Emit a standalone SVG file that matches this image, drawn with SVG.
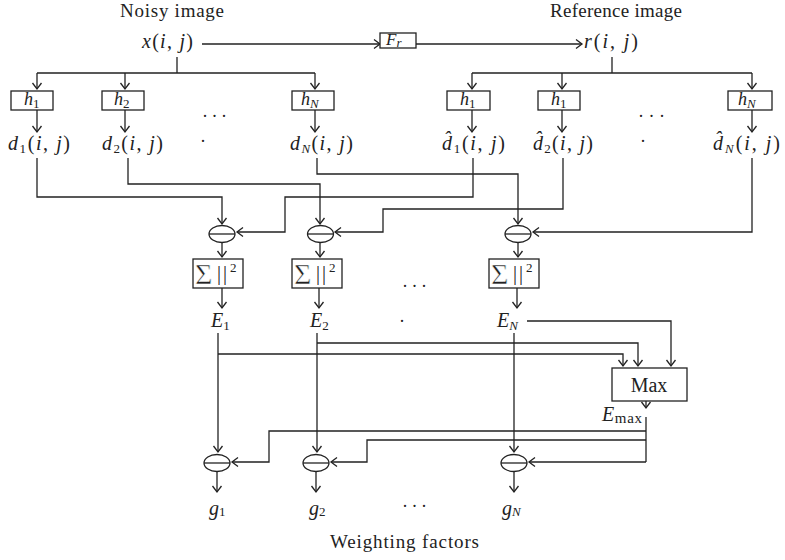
<svg xmlns="http://www.w3.org/2000/svg" width="785" height="560" viewBox="0 0 785 560" font-size="19">
<style>
.t{font-family:"Liberation Serif","Times New Roman",serif;fill:#222}
.i{font-style:italic}
.s{font-size:13px}
.sg{stroke:#fff;stroke-width:0.6}
.b{fill:#fff;stroke:#222;stroke-width:1.3}
.l{fill:none;stroke:#222;stroke-width:1.3}
.a{fill:none;stroke:#222;stroke-width:1.3;marker-end:url(#ar)}
</style>
<defs>
<marker id="ar" markerUnits="userSpaceOnUse" markerWidth="10" markerHeight="10" viewBox="-8 -5 10 10" refX="0" refY="0" orient="auto" overflow="visible">
<path d="M-6,-4.5 L0,0 L-6,4.5" fill="none" stroke="#222" stroke-width="1.3"/>
</marker>
</defs>
<rect width="785" height="560" fill="#fff"/>

<g id="connectors">
<path class="a" d="M202,44 H380"/>
<path class="a" d="M416,44 H582"/>
<path class="l" d="M177,57 V73 M37,73 H315"/>
<path class="a" d="M37,73 V89"/>
<path class="a" d="M125,73 V89"/>
<path class="a" d="M315,73 V89"/>
<path class="l" d="M612,57 V73 M472,73 H752"/>
<path class="a" d="M472,73 V89"/>
<path class="a" d="M562,73 V89"/>
<path class="a" d="M752,73 V89"/>
<path class="a" d="M37,110 V132"/>
<path class="a" d="M125,110 V132"/>
<path class="a" d="M315,110 V132"/>
<path class="a" d="M472,110 V132"/>
<path class="a" d="M562,110 V132"/>
<path class="a" d="M752,110 V132"/>
<path class="a" d="M37,158 V197 H222 V224"/>
<path class="a" d="M128,158 V184 H320 V224"/>
<path class="a" d="M317,158 V174 H518 V224"/>
<path class="a" d="M473,158 V197 H285 V232 H237"/>
<path class="a" d="M563,158 V209 H383 V232 H335"/>
<path class="a" d="M752,158 V232 H533"/>
<path class="a" d="M222,243 V257"/>
<path class="a" d="M320,243 V257"/>
<path class="a" d="M518,243 V257"/>
<path class="a" d="M222,288 V308"/>
<path class="a" d="M319,288 V308"/>
<path class="a" d="M517,288 V308"/>
<path class="a" d="M218,333 V452"/>
<path class="a" d="M218,354 H623 V366"/>
<path class="a" d="M317,333 V452"/>
<path class="a" d="M317,343 H638 V366"/>
<path class="a" d="M514,333 V452"/>
<path class="a" d="M527,321 H671 V366"/>
<path class="a" d="M646,394 V408"/>
<path class="l" d="M646,417 V462"/>
<path class="a" d="M646,431 H269 V462 H232"/>
<path class="a" d="M646,440 H367 V462 H331"/>
<path class="a" d="M646,462 H529"/>
<path class="a" d="M217,472 V492"/>
<path class="a" d="M316,472 V492"/>
<path class="a" d="M514,472 V492"/>
</g>

<g id="noisy-image">
<text class="t" x="120" y="17" font-size="19" textLength="104">Noisy image</text>
<text class="t" x="142" y="48" font-size="20" textLength="51"><tspan class="i">x</tspan>(<tspan class="i">i</tspan>, <tspan class="i">j</tspan>)</text>
</g>
<g id="reference-image">
<text class="t" x="550" y="17" font-size="19" textLength="132">Reference image</text>
<text class="t" x="584" y="48" font-size="20" textLength="54"><tspan class="i">r</tspan>(<tspan class="i">i</tspan>, <tspan class="i">j</tspan>)</text>
</g>
<g id="fr">
<rect class="b" x="380" y="33" width="36" height="15"/>
<text class="t i" x="386" y="45" font-size="17">F<tspan font-size="13" dy="2">r</tspan></text>
</g>

<g id="h1">
<rect class="b" x="11" y="91" width="42" height="19"/>
<text class="t" x="24" y="105" font-size="18"><tspan class="i">h</tspan><tspan class="s" dy="3">1</tspan></text>
</g>
<g id="h2">
<rect class="b" x="102" y="91" width="42" height="19"/>
<text class="t" x="114" y="105" font-size="18"><tspan class="i">h</tspan><tspan class="s" dy="3">2</tspan></text>
</g>
<g id="hN">
<rect class="b" x="292" y="91" width="42" height="19"/>
<text class="t" x="301" y="105" font-size="18"><tspan class="i">h</tspan><tspan class="s i" dy="3">N</tspan></text>
</g>
<g id="hr1">
<rect class="b" x="447" y="91" width="43" height="19"/>
<text class="t" x="460" y="105" font-size="18"><tspan class="i">h</tspan><tspan class="s" dy="3">1</tspan></text>
</g>
<g id="hr2">
<rect class="b" x="538" y="91" width="42" height="19"/>
<text class="t" x="551" y="105" font-size="18"><tspan class="i">h</tspan><tspan class="s" dy="3">1</tspan></text>
</g>
<g id="hrN">
<rect class="b" x="728" y="91" width="44" height="19"/>
<text class="t" x="738" y="105" font-size="18"><tspan class="i">h</tspan><tspan class="s i" dy="3">N</tspan></text>
</g>

<g id="d-labels">
<text class="t" x="8" y="150" font-size="20" textLength="62"><tspan class="i">d</tspan><tspan class="s" dy="3">1</tspan><tspan dy="-3">(</tspan><tspan class="i">i</tspan>, <tspan class="i">j</tspan>)</text>
<text class="t" x="102" y="150" font-size="20" textLength="61"><tspan class="i">d</tspan><tspan class="s" dy="3">2</tspan><tspan dy="-3">(</tspan><tspan class="i">i</tspan>, <tspan class="i">j</tspan>)</text>
<text class="t" x="290" y="150" font-size="20" textLength="63"><tspan class="i">d</tspan><tspan class="s i" dy="3">N</tspan><tspan dy="-3">(</tspan><tspan class="i">i</tspan>, <tspan class="i">j</tspan>)</text>
<text class="t" x="442" y="150" font-size="20" textLength="63"><tspan class="i">d&#x302;</tspan><tspan class="s" dy="3">1</tspan><tspan dy="-3">(</tspan><tspan class="i">i</tspan>, <tspan class="i">j</tspan>)</text>
<text class="t" x="533" y="150" font-size="20" textLength="60"><tspan class="i">d&#x302;</tspan><tspan class="s" dy="3">2</tspan><tspan dy="-3">(</tspan><tspan class="i">i</tspan>, <tspan class="i">j</tspan>)</text>
<text class="t" x="713" y="150" font-size="20" textLength="67"><tspan class="i">d&#x302;</tspan><tspan class="s i" dy="3">N</tspan><tspan dy="-3">(</tspan><tspan class="i">i</tspan>, <tspan class="i">j</tspan>)</text>
</g>

<g id="dots">
<text class="t" x="202" y="122" font-size="18" textLength="25">· · ·</text>
<text class="t" x="203" y="147" font-size="18" text-anchor="middle">·</text>
<text class="t" x="638" y="122" font-size="18" textLength="27">· · ·</text>
<text class="t" x="643" y="147" font-size="18" text-anchor="middle">·</text>
<text class="t" x="402" y="292" font-size="18" textLength="25">· · ·</text>
<text class="t" x="402" y="327" font-size="18" text-anchor="middle">·</text>
<text class="t" x="402" y="512" font-size="18" textLength="25">· · ·</text>
</g>

<g id="sub1">
<ellipse class="b" cx="222" cy="234" rx="13" ry="8.5"/>
<path class="l" d="M209,234 H235"/>
</g>
<g id="sub2">
<ellipse class="b" cx="320.5" cy="234" rx="13" ry="8.5"/>
<path class="l" d="M307.5,234 H333.5"/>
</g>
<g id="subN">
<ellipse class="b" cx="518" cy="234" rx="13" ry="8.5"/>
<path class="l" d="M505,234 H531"/>
</g>

<g id="sum1">
<rect class="b" x="193" y="259" width="50" height="29"/>
<text class="t sg" x="195" y="284" font-size="30">Σ</text>
<text class="t" x="217" y="280" font-size="20" letter-spacing="2">||</text>
<text class="t" x="230" y="272" font-size="13">2</text>
</g>
<g id="sum2">
<rect class="b" x="292" y="259" width="50" height="29"/>
<text class="t sg" x="294" y="284" font-size="30">Σ</text>
<text class="t" x="316" y="280" font-size="20" letter-spacing="2">||</text>
<text class="t" x="329" y="272" font-size="13">2</text>
</g>
<g id="sumN">
<rect class="b" x="489" y="259" width="50" height="29"/>
<text class="t sg" x="491" y="284" font-size="30">Σ</text>
<text class="t" x="513" y="280" font-size="20" letter-spacing="2">||</text>
<text class="t" x="526" y="272" font-size="13">2</text>
</g>

<g id="E-labels">
<text class="t" x="211" y="327" font-size="20"><tspan class="i">E</tspan><tspan class="s" dy="3">1</tspan></text>
<text class="t" x="310" y="327" font-size="20"><tspan class="i">E</tspan><tspan class="s" dy="3">2</tspan></text>
<text class="t" x="497" y="327" font-size="20"><tspan class="i">E</tspan><tspan class="s i" dy="3">N</tspan></text>
</g>

<g id="max">
<rect class="b" x="612" y="368" width="75" height="33"/>
<text class="t" x="649" y="392" font-size="20" text-anchor="middle">Max</text>
</g>
<g id="emax">
<text class="t" x="602" y="421" font-size="20" textLength="40"><tspan class="i">E</tspan><tspan font-size="15" dy="2">max</tspan></text>
</g>

<g id="g1">
<ellipse class="b" cx="217" cy="463" rx="13" ry="8.5"/>
<path class="l" d="M204,463 H230"/>
</g>
<g id="g2">
<ellipse class="b" cx="316" cy="463" rx="13" ry="8.5"/>
<path class="l" d="M303,463 H329"/>
</g>
<g id="gN">
<ellipse class="b" cx="514" cy="463" rx="13" ry="8.5"/>
<path class="l" d="M501,463 H527"/>
</g>

<g id="g-labels">
<text class="t" x="209" y="515" font-size="20"><tspan class="i">g</tspan><tspan class="s" dy="1">1</tspan></text>
<text class="t" x="309" y="515" font-size="20"><tspan class="i">g</tspan><tspan class="s" dy="1">2</tspan></text>
<text class="t" x="502" y="515" font-size="20"><tspan class="i">g</tspan><tspan class="s i" dy="1">N</tspan></text>
<text class="t" x="330" y="548" font-size="19" textLength="149">Weighting factors</text>
</g>
</svg>
